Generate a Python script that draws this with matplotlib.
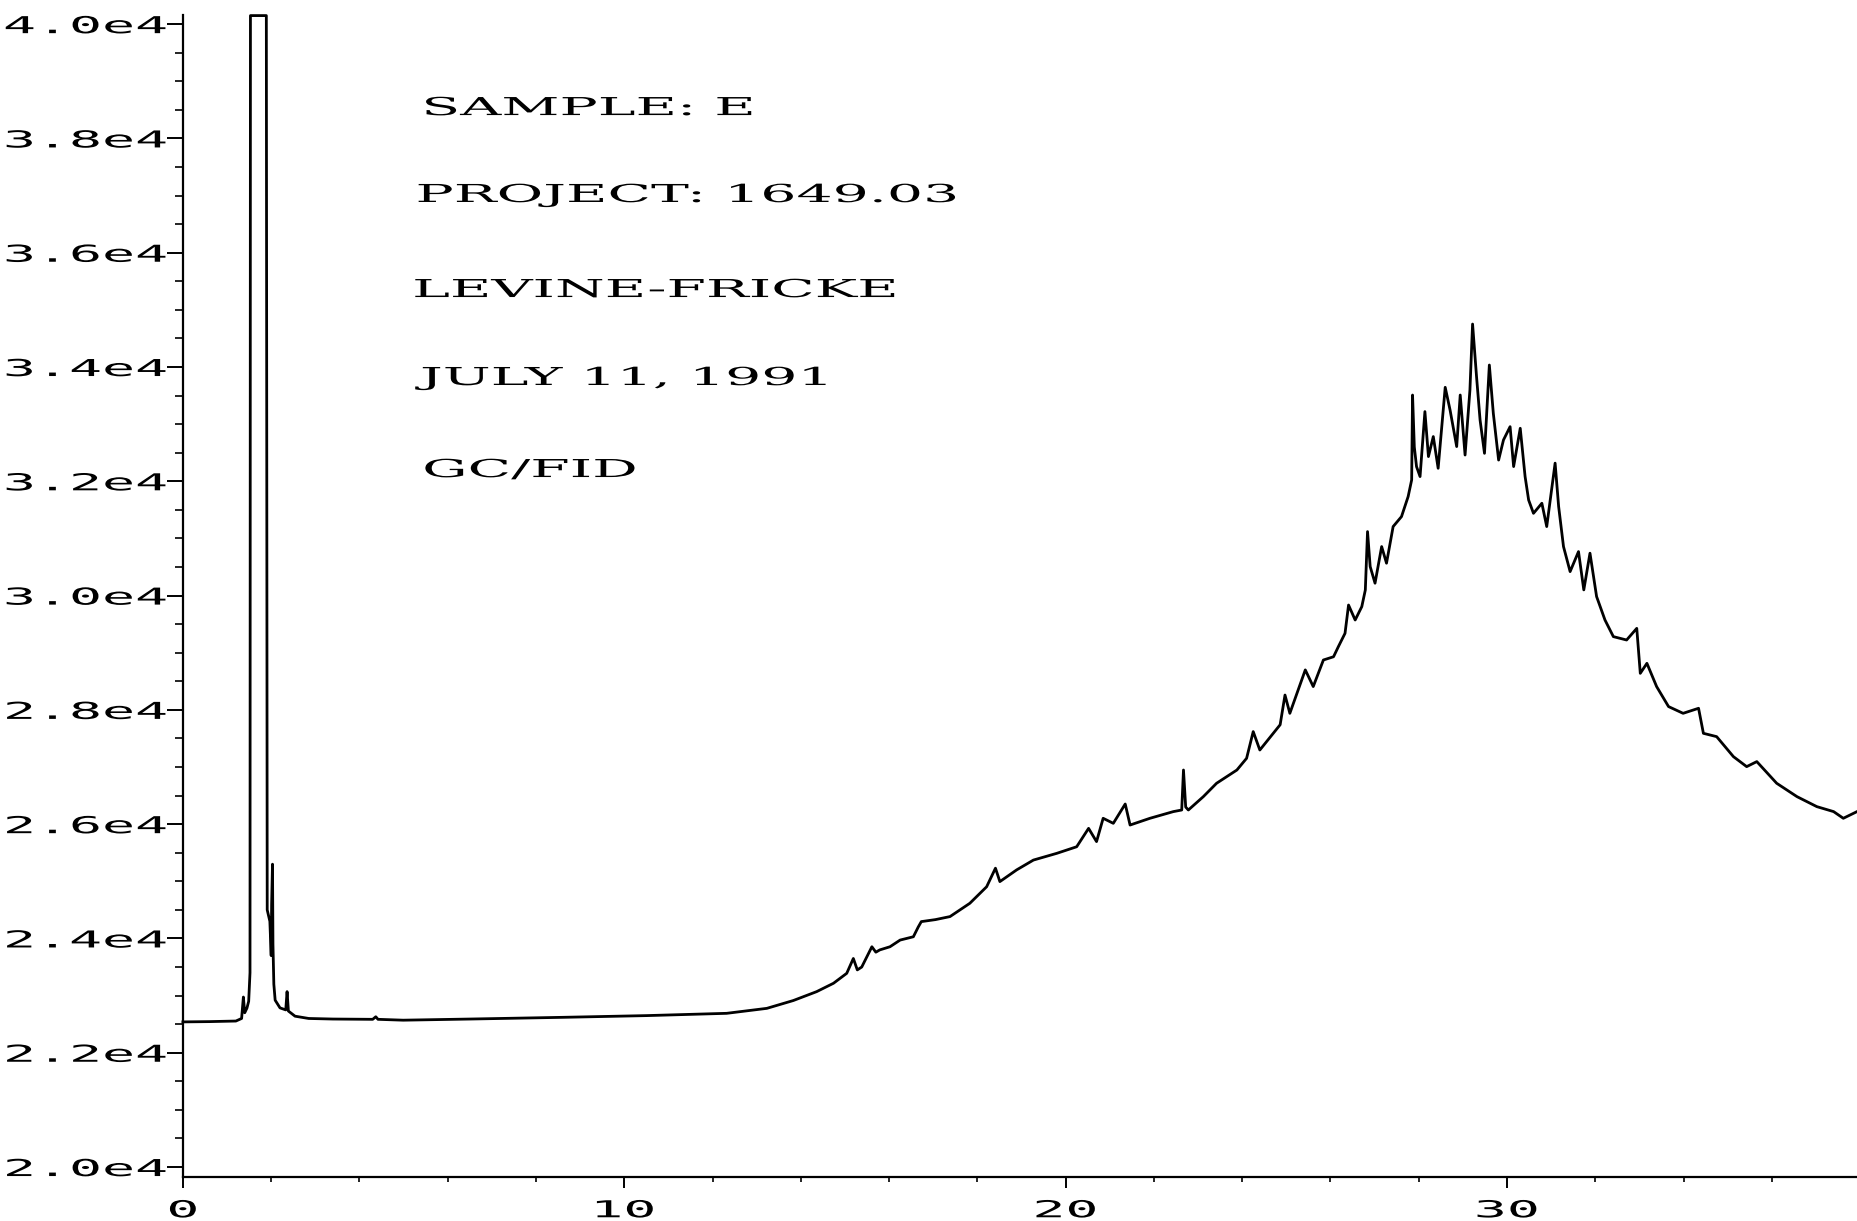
import numpy as np
import matplotlib
matplotlib.use("Agg")
import matplotlib.pyplot as plt
from matplotlib import patheffects
from matplotlib.transforms import Affine2D

# retention time (min) and detector response
time_min = [
    0.00, 0.60, 1.20, 1.33, 1.37, 1.40, 1.45, 1.49, 1.52, 1.53,
    1.89, 1.91, 1.97, 2.00, 2.01, 2.03, 2.04, 2.06, 2.09, 2.20,
    2.33, 2.36, 2.39, 2.54, 2.85, 3.40, 4.30, 4.37, 4.42, 4.99,
    6.50, 8.61, 10.50, 12.32, 13.23, 13.83, 14.36, 14.74, 15.04, 15.19,
    15.28, 15.38, 15.61, 15.70, 15.79, 16.02, 16.25, 16.55, 16.66, 16.73,
    17.05, 17.38, 17.83, 18.21, 18.41, 18.51, 18.89, 19.27, 19.80, 20.25,
    20.52, 20.70, 20.85, 21.08, 21.35, 21.46, 21.91, 22.44, 22.63, 22.67,
    22.72, 22.78, 23.12, 23.42, 23.88, 24.10, 24.25, 24.40, 24.86, 24.97,
    25.08, 25.43, 25.61, 25.84, 26.07, 26.18, 26.33, 26.41, 26.56, 26.71,
    26.79, 26.84, 26.90, 27.01, 27.16, 27.27, 27.42, 27.61, 27.76, 27.84,
    27.86, 27.90, 27.95, 28.03, 28.14, 28.22, 28.33, 28.44, 28.60, 28.71,
    28.86, 28.94, 29.05, 29.16, 29.22, 29.31, 29.39, 29.49, 29.60, 29.69,
    29.81, 29.92, 30.07, 30.15, 30.30, 30.41, 30.49, 30.60, 30.79, 30.90,
    31.09, 31.17, 31.28, 31.43, 31.62, 31.74, 31.88, 32.03, 32.22, 32.41,
    32.71, 32.94, 33.02, 33.17, 33.39, 33.66, 33.99, 34.34, 34.45, 34.75,
    35.13, 35.43, 35.66, 36.11, 36.57, 37.02, 37.40, 37.62, 37.93,
]
response = [
    22540, 22545, 22555, 22600, 22975, 22700, 22780, 22900, 23400, 40150,
    40150, 24500, 24300, 23700, 24600, 25300, 23900, 23200, 22920, 22785,
    22750, 23070, 22730, 22640, 22600, 22590, 22585, 22630, 22585, 22570,
    22590, 22620, 22650, 22690, 22777, 22914, 23070, 23216, 23390, 23650,
    23450, 23500, 23855, 23760, 23800, 23855, 23972, 24030, 24200, 24295,
    24330, 24383, 24616, 24905, 25230, 24995, 25200, 25372, 25490, 25605,
    25927, 25695, 26103, 26015, 26353, 25985, 26103, 26220, 26248, 26948,
    26300, 26248, 26482, 26716, 26948, 27153, 27620, 27298, 27740, 28260,
    27940, 28700, 28408, 28873, 28930, 29108, 29340, 29835, 29573, 29807,
    30098, 31120, 30508, 30217, 30858, 30567, 31208, 31383, 31733, 32025,
    33510, 32600, 32258, 32083, 33220, 32433, 32783, 32228, 33645, 33248,
    32608, 33510, 32460, 33598, 34752, 33830, 33073, 32490, 34035, 33190,
    32372, 32723, 32956, 32258, 32928, 32083, 31673, 31440, 31616, 31208,
    32318, 31558, 30858, 30420, 30770, 30100, 30742, 29983, 29573, 29282,
    29223, 29427, 28640, 28815, 28408, 28058, 27940, 28028, 27590, 27532,
    27182, 27007, 27095, 26716, 26482, 26307, 26220, 26103, 26220,
]

x_ticks = [0, 10, 20, 30]
y_ticks = [20000, 22000, 24000, 26000, 28000, 30000, 32000, 34000, 36000, 38000, 40000]
y_labels = ["2.0e4", "2.2e4", "2.4e4", "2.6e4", "2.8e4", "3.0e4",
            "3.2e4", "3.4e4", "3.6e4", "3.8e4", "4.0e4"]

notes = ["SAMPLE: E", "PROJECT: 1649.03", "LEVINE-FRICKE", "JULY 11, 1991", "GC/FID"]
notes_x = [0.144, 0.140, 0.138, 0.140, 0.144]
notes_y = [0.9139, 0.8391, 0.7573, 0.6816, 0.6024]


class Stretch(patheffects.AbstractPathEffect):
    # widen glyphs horizontally, like the old plotter font
    def __init__(self, sx, anchor="left"):
        super().__init__()
        self.sx = sx
        self.anchor = anchor

    def draw_path(self, renderer, gc, tpath, affine, rgbFace=None):
        bb = tpath.get_extents(affine)
        if self.anchor == "right":
            x0 = bb.x1
        elif self.anchor == "center":
            x0 = (bb.x0 + bb.x1) / 2
        else:
            x0 = bb.x0
        st = Affine2D().translate(-x0, 0).scale(self.sx, 1).translate(x0, 0)
        renderer.draw_path(gc, tpath, affine + st, rgbFace)


fig = plt.figure(figsize=(18.57, 12.21), dpi=100)
ax = fig.add_axes([0.0985, 0.0360, 0.9015, 0.9517])

ax.plot(time_min, response, color="black", lw=2.0, clip_on=False)

ax.set_xlim(0, 37.93)
ax.set_ylim(19825, 40160)

for side in ["top", "right"]:
    ax.spines[side].set_visible(False)
for side in ["left", "bottom"]:
    ax.spines[side].set_linewidth(1.6)

ax.set_xticks(x_ticks)
ax.set_xticks(np.arange(0, 38, 2), minor=True)
ax.set_yticks(y_ticks)
ax.set_yticklabels(y_labels)
ax.set_yticks(np.arange(20000, 40001, 500), minor=True)

ax.tick_params(axis="y", which="major", direction="out", length=11.5, width=1.4, pad=0)
ax.tick_params(axis="y", which="minor", direction="out", length=5.8, width=1.2)
ax.tick_params(axis="x", which="major", direction="out", length=8, width=1.4, pad=8)
ax.tick_params(axis="x", which="minor", direction="out", length=3.6, width=1.2)

for lab in ax.get_yticklabels():
    lab.set_fontfamily("DejaVu Sans Mono")
    lab.set_fontsize(16.8)
    lab.set_path_effects([Stretch(2.35, "right")])
for lab in ax.get_xticklabels():
    lab.set_fontfamily("DejaVu Sans Mono")
    lab.set_fontsize(16.8)
    lab.set_path_effects([Stretch(2.35, "center")])

for s, tx, ty in zip(notes, notes_x, notes_y):
    ax.text(tx, ty, s, transform=ax.transAxes, ha="left", va="baseline",
            fontfamily="DejaVu Serif", fontsize=17.8,
            path_effects=[Stretch(2.3, "left")])

fig.savefig("out.png", dpi=100)
